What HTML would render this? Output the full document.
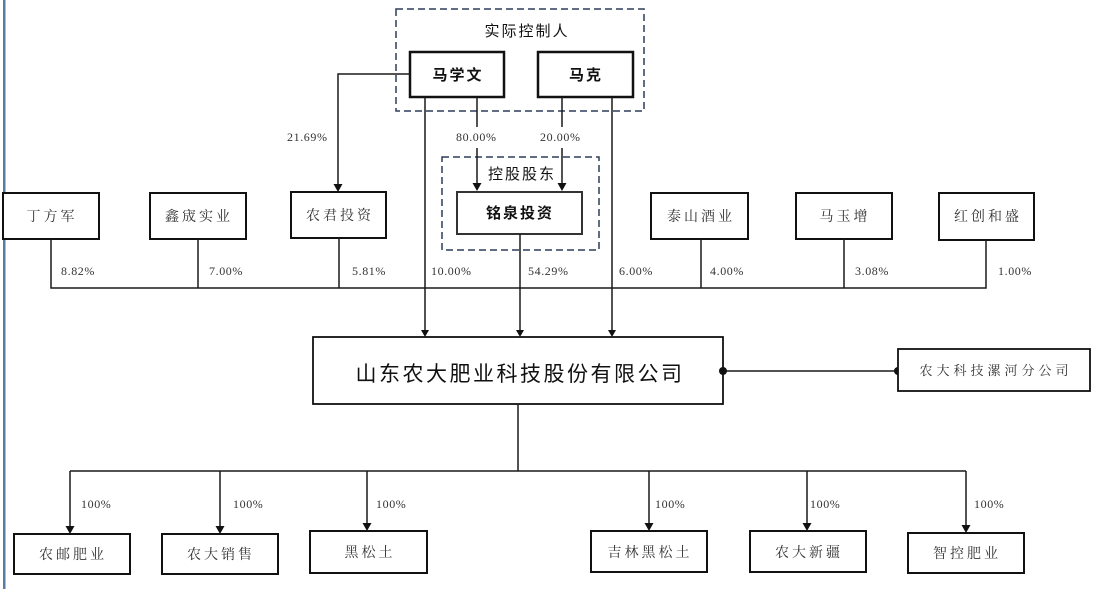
<!DOCTYPE html>
<html><head><meta charset="utf-8"><style>
html,body{margin:0;padding:0;background:#fff;}
svg{display:block;}
.n{font-family:"Liberation Serif","Noto Serif CJK SC",serif;font-size:14px;fill:#333;letter-spacing:3px;}
.b{font-family:"Liberation Sans","Noto Sans CJK SC",sans-serif;font-size:15px;font-weight:bold;fill:#111;letter-spacing:2px;}
.t{font-family:"Liberation Sans","Noto Sans CJK SC",sans-serif;font-size:15px;fill:#111;letter-spacing:2px;}
.p{font-family:"Liberation Serif",serif;font-size:12px;fill:#333;letter-spacing:0.6px;}
.ln{stroke:#1a1a1a;stroke-width:1.5;fill:none;}
</style></head><body>
<svg width="1116" height="589" viewBox="0 0 1116 589" xmlns="http://www.w3.org/2000/svg">
<rect x="0" y="0" width="1116" height="589" fill="#fff"/>
<rect x="3" y="0" width="2.5" height="589" fill="#5a7ba3"/>

<!-- dashed boxes -->
<rect x="396" y="9" width="248" height="102" fill="none" stroke="#2d3d5a" stroke-width="1.5" stroke-dasharray="7,4"/>
<rect x="442" y="157" width="157" height="93" fill="none" stroke="#2d3d5a" stroke-width="1.5" stroke-dasharray="7,4"/>
<text class="t" x="527" y="36" text-anchor="middle">实际控制人</text>
<text class="t" x="522" y="179" text-anchor="middle">控股股东</text>

<!-- top boxes -->
<rect x="410" y="52" width="94" height="45" fill="#fff" stroke="#111" stroke-width="2.5"/>
<text class="b" x="458" y="80" text-anchor="middle">马学文</text>
<rect x="538" y="52" width="95" height="45" fill="#fff" stroke="#111" stroke-width="2.5"/>
<text class="b" x="586" y="80" text-anchor="middle">马克</text>
<rect x="457" y="192" width="125" height="42" fill="#fff" stroke="#333" stroke-width="2"/>
<text class="b" x="520" y="218" text-anchor="middle">铭泉投资</text>

<!-- connectors top -->
<path class="ln" d="M410,74 H338 V188"/>
<path d="M333.5,184 L342.5,184 L338,192 Z" fill="#111"/>
<text class="p" x="287" y="141">21.69%</text>

<path class="ln" d="M477,97 V127 M477,148 V186"/>
<path d="M472.5,183 L481.5,183 L477,191 Z" fill="#111"/>
<text class="p" x="456" y="141">80.00%</text>
<path class="ln" d="M562,97 V127 M562,148 V186"/>
<path d="M557.5,183 L566.5,183 L562,191 Z" fill="#111"/>
<text class="p" x="540" y="141">20.00%</text>

<path class="ln" d="M425,97 V332"/>
<path d="M421,330 L429,330 L425,337 Z" fill="#111"/>
<path class="ln" d="M612,97 V332"/>
<path d="M608,330 L616,330 L612,337 Z" fill="#111"/>
<path class="ln" d="M520,234 V332"/>
<path d="M516,330 L524,330 L520,337 Z" fill="#111"/>

<!-- shareholders row -->
<rect x="3" y="193" width="96" height="46" fill="#fff" stroke="#111" stroke-width="2"/>
<text class="n" x="52" y="221" text-anchor="middle">丁方军</text>
<rect x="150" y="193" width="96" height="46" fill="#fff" stroke="#111" stroke-width="2"/>
<text class="n" x="199" y="221" text-anchor="middle">鑫宬实业</text>
<rect x="291" y="192" width="95" height="46" fill="#fff" stroke="#111" stroke-width="2"/>
<text class="n" x="340" y="220" text-anchor="middle">农君投资</text>
<rect x="651" y="193" width="97" height="46" fill="#fff" stroke="#111" stroke-width="2"/>
<text class="n" x="701" y="221" text-anchor="middle">泰山酒业</text>
<rect x="796" y="193" width="96" height="46" fill="#fff" stroke="#111" stroke-width="2"/>
<text class="n" x="845" y="221" text-anchor="middle">马玉增</text>
<rect x="939" y="193" width="95" height="47" fill="#fff" stroke="#111" stroke-width="2"/>
<text class="n" x="988" y="221" text-anchor="middle">红创和盛</text>

<path class="ln" d="M51,239 V288 H986 V240 M198,239 V288 M339,238 V288 M701,239 V288 M844,239 V288"/>
<text class="p" x="61" y="275">8.82%</text>
<text class="p" x="209" y="275">7.00%</text>
<text class="p" x="352" y="275">5.81%</text>
<text class="p" x="431" y="275">10.00%</text>
<text class="p" x="528" y="275">54.29%</text>
<text class="p" x="619" y="275">6.00%</text>
<text class="p" x="710" y="275">4.00%</text>
<text class="p" x="855" y="275">3.08%</text>
<text class="p" x="998" y="275">1.00%</text>

<!-- main company -->
<rect x="313" y="337" width="410" height="67" fill="#fff" stroke="#111" stroke-width="1.8"/>
<text x="520" y="381" text-anchor="middle" style="font-family:'Liberation Sans','Noto Sans CJK SC',sans-serif;font-size:21px;fill:#111;letter-spacing:2.5px;">山东农大肥业科技股份有限公司</text>
<path class="ln" d="M723,371 H898"/>
<circle cx="723" cy="371" r="4" fill="#111"/>
<circle cx="898" cy="371" r="4" fill="#111"/>
<rect x="898" y="349" width="192" height="42" fill="#fff" stroke="#111" stroke-width="1.8"/>
<text x="996" y="375" text-anchor="middle" style="font-family:'Liberation Serif','Noto Serif CJK SC',serif;font-size:13px;fill:#333;letter-spacing:4px;">农大科技漯河分公司</text>

<!-- subsidiaries -->
<path class="ln" d="M518,404 V471 M70,471 H966 M70,471 V528 M220,471 V528 M367,471 V525 M649,471 V525 M807,471 V525 M966,471 V527"/>
<path d="M65.5,526 L74.5,526 L70,534 Z" fill="#111"/>
<path d="M215.5,526 L224.5,526 L220,534 Z" fill="#111"/>
<path d="M362.5,523 L371.5,523 L367,531 Z" fill="#111"/>
<path d="M644.5,523 L653.5,523 L649,531 Z" fill="#111"/>
<path d="M802.5,523 L811.5,523 L807,531 Z" fill="#111"/>
<path d="M961.5,525 L970.5,525 L966,533 Z" fill="#111"/>
<text class="p" x="81" y="508">100%</text>
<text class="p" x="233" y="508">100%</text>
<text class="p" x="376" y="508">100%</text>
<text class="p" x="655" y="508">100%</text>
<text class="p" x="810" y="508">100%</text>
<text class="p" x="974" y="508">100%</text>

<rect x="14" y="534" width="116" height="40" fill="#fff" stroke="#111" stroke-width="2"/>
<text class="n" x="73" y="559" text-anchor="middle">农邮肥业</text>
<rect x="162" y="534" width="116" height="40" fill="#fff" stroke="#111" stroke-width="2"/>
<text class="n" x="221" y="559" text-anchor="middle">农大销售</text>
<rect x="310" y="531" width="117" height="42" fill="#fff" stroke="#111" stroke-width="2"/>
<text class="n" x="370" y="557" text-anchor="middle">黑松土</text>
<rect x="591" y="531" width="116" height="41" fill="#fff" stroke="#111" stroke-width="2"/>
<text class="n" x="650" y="557" text-anchor="middle">吉林黑松土</text>
<rect x="750" y="531" width="116" height="41" fill="#fff" stroke="#111" stroke-width="2"/>
<text class="n" x="809" y="557" text-anchor="middle">农大新疆</text>
<rect x="908" y="533" width="116" height="40" fill="#fff" stroke="#111" stroke-width="2"/>
<text class="n" x="967" y="558" text-anchor="middle">智控肥业</text>
</svg>
</body></html>
